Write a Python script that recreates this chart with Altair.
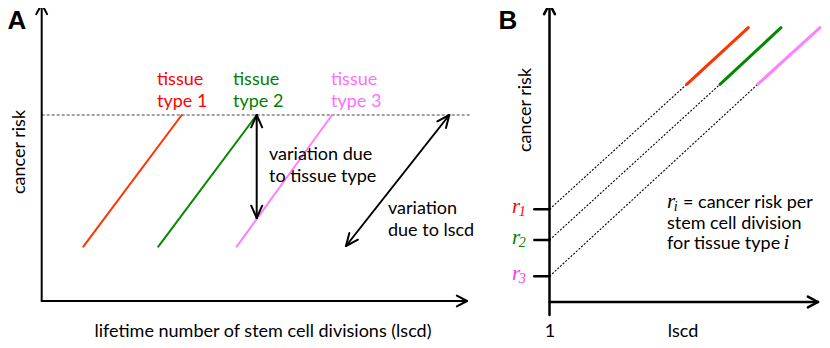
import math
import altair as alt
import pandas as pd

# ---------------- data (diagram units, y grows downward) ----------------
# Panel A: three tissue lines (risk vs lscd)
a_tissue = ["tissue type 1", "tissue type 2", "tissue type 3"]
a_x0 = [83.3, 158.3, 236.7]
a_x1 = [181.7, 256.7, 332.0]
a_y0 = [246.7, 246.7, 246.7]
a_y1 = [115.0, 115.0, 115.0]
line_colors = ["#ff3300", "#008a00", "#ff80ff"]
text_colors = ["#ff0000", "#008000", "#ff6eff"]
r_colors = ["#ff0000", "#008000", "#ff33ff"]

# Panel B: r_i intercepts and extrapolated lines
b_axis_x = 549.5
b_r_y = [209.3, 240.0, 276.3]
b_solid_x0 = [686.7, 720.0, 757.7]
b_solid_x1 = [748.3, 781.0, 820.0]
b_solid_y0 = [84.3, 84.3, 84.3]
b_solid_y1 = [27.7, 27.7, 27.7]

# ---------------- build tables ----------------
solid = []   # x, y, x2, y2, color, w
for i in range(3):
    solid.append((a_x0[i], a_y0[i], a_x1[i], a_y1[i], line_colors[i], 2.0))
    solid.append((b_solid_x0[i], b_solid_y0[i], b_solid_x1[i], b_solid_y1[i], line_colors[i], 3.0))


def arrow(x0, y0, x1, y1, w, heads, length, deg):
    segs = [(x0, y0, x1, y1, "#000000", w)]
    ends = []
    if "end" in heads:
        ends.append((x0, y0, x1, y1))
    if "start" in heads:
        ends.append((x1, y1, x0, y0))
    th = math.radians(deg)
    for (sx, sy, tx, ty) in ends:
        L = math.hypot(tx - sx, ty - sy)
        bx, by = (sx - tx) / L, (sy - ty) / L
        for s in (1, -1):
            rx = bx * math.cos(s * th) - by * math.sin(s * th)
            ry = bx * math.sin(s * th) + by * math.cos(s * th)
            segs.append((tx, ty, tx + length * rx, ty + length * ry, "#000000", w))
    return segs

# axes
solid += arrow(41.7, 301.0, 41.7, 4.0, 2.0, ["end"], 11.5, 28)
solid += arrow(41.7, 301.0, 467.0, 301.0, 2.0, ["end"], 11.5, 28)
solid += arrow(b_axis_x, 315.0, b_axis_x, 4.0, 2.5, ["end"], 11.5, 28)
solid += arrow(b_axis_x, 302.0, 818.0, 302.0, 2.5, ["end"], 11.5, 28)
# double arrows in A
solid += arrow(256.7, 115.0, 256.7, 218.0, 2.0, ["start", "end"], 13.5, 24)
solid += arrow(346.0, 246.0, 449.3, 115.0, 2.0, ["start", "end"], 13.5, 24)
# r ticks in B
for ry in b_r_y:
    solid.append((534.3, ry, b_axis_x, ry, "#000000", 2.5))

solid_df = pd.DataFrame(solid, columns=["x", "y", "x2", "y2", "color", "w"])

dash_a = pd.DataFrame([(41.7, 115.0, 470.0, 115.0)], columns=["x", "y", "x2", "y2"])
dash_b = pd.DataFrame(
    [(b_axis_x, b_r_y[i], b_solid_x0[i], b_solid_y0[i]) for i in range(3)],
    columns=["x", "y", "x2", "y2"],
)

# sans texts
sans = []  # x, y, text, color, align, angle
label_x = [157.0, 233.0, 331.0]
for i in range(3):
    sans.append((label_x[i], 85.0, "tissue", text_colors[i], "left", 0))
    sans.append((label_x[i], 106.5, "type " + str(i + 1), text_colors[i], "left", 0))
sans += [
    (269.0, 159.5, "variation due", "#000000", "left", 0),
    (269.0, 181.5, "to tissue type", "#000000", "left", 0),
    (388.0, 214.0, "variation", "#000000", "left", 0),
    (388.0, 236.0, "due to lscd", "#000000", "left", 0),
    (263.0, 337.0, "lifetime number of stem cell divisions (lscd)", "#000000", "center", 0),
    (550.0, 337.0, "1", "#000000", "center", 0),
    (683.0, 337.0, "lscd", "#000000", "center", 0),
    (683.0, 207.5, "= cancer risk per", "#000000", "left", 0),
    (667.0, 228.5, "stem cell division", "#000000", "left", 0),
    (667.0, 249.0, "for tissue type", "#000000", "left", 0),
]
sans_df = pd.DataFrame(sans, columns=["x", "y", "text", "color", "align", "angle"])

rot_df = pd.DataFrame(
    [(19.5, 152.0, "cancer risk"), (526.0, 110.0, "cancer risk")], columns=["x", "y", "text"]
)

panel_df = pd.DataFrame([(7.5, 29.0, "A"), (498.5, 29.0, "B")], columns=["x", "y", "text"])

# italic serif r symbols
r_main = []
r_sub = []
for i in range(3):
    r_main.append((512.0, b_r_y[i] + 4.0, "r", r_colors[i]))
    r_sub.append((518.8, b_r_y[i] + 7.0, str(i + 1), r_colors[i]))
r_main.append((667.0, 207.5, "r", "#000000"))
r_sub.append((673.8, 211.0, "i", "#000000"))
r_main.append((783.5, 249.0, "i", "#000000"))
r_main_df = pd.DataFrame(r_main, columns=["x", "y", "text", "color"])
r_sub_df = pd.DataFrame(r_sub, columns=["x", "y", "text", "color"])

# ---------------- chart ----------------
X = alt.X("x:Q", scale=alt.Scale(domain=[8, 822], nice=False, zero=False), axis=None)
Y = alt.Y("y:Q", scale=alt.Scale(domain=[8, 340], nice=False, zero=False, reverse=True), axis=None)
X2 = alt.X2("x2:Q")
Y2 = alt.Y2("y2:Q")

solid_layer = alt.Chart(solid_df).mark_rule(strokeCap="round").encode(
    x=X, y=Y, x2=X2, y2=Y2,
    color=alt.Color("color:N", scale=None),
    strokeWidth=alt.StrokeWidth("w:Q", scale=None),
)
dash_a_layer = alt.Chart(dash_a).mark_rule(
    strokeDash=[3, 2], color="#444444", strokeWidth=1
).encode(x=X, y=Y, x2=X2, y2=Y2)
dash_b_layer = alt.Chart(dash_b).mark_rule(
    strokeDash=[2, 1.6], color="#000000", strokeWidth=1.1
).encode(x=X, y=Y, x2=X2, y2=Y2)

sans_left = alt.Chart(sans_df[sans_df["align"] == "left"]).mark_text(
    font="Lato", fontSize=18, align="left", baseline="alphabetic"
).encode(x=X, y=Y, text="text:N", color=alt.Color("color:N", scale=None))
sans_center = alt.Chart(sans_df[sans_df["align"] == "center"]).mark_text(
    font="Lato", fontSize=18, align="center", baseline="alphabetic"
).encode(x=X, y=Y, text="text:N", color=alt.Color("color:N", scale=None))
rot_layer = alt.Chart(rot_df).mark_text(
    font="Lato", fontSize=18, align="center", baseline="middle", angle=270, color="#000000"
).encode(x=X, y=Y, text="text:N")
panel_layer = alt.Chart(panel_df).mark_text(
    font="Liberation Sans", fontSize=26, fontWeight="bold", align="left", baseline="alphabetic",
    color="#000000",
).encode(x=X, y=Y, text="text:N")
r_main_layer = alt.Chart(r_main_df).mark_text(
    font="Liberation Serif", fontSize=21, fontStyle="italic", align="left", baseline="alphabetic"
).encode(x=X, y=Y, text="text:N", color=alt.Color("color:N", scale=None))
r_sub_layer = alt.Chart(r_sub_df).mark_text(
    font="Liberation Serif", fontSize=14, fontStyle="italic", align="left", baseline="alphabetic"
).encode(x=X, y=Y, text="text:N", color=alt.Color("color:N", scale=None))

chart = alt.layer(
    dash_a_layer, dash_b_layer, solid_layer,
    sans_left, sans_center, rot_layer, panel_layer, r_main_layer, r_sub_layer,
).properties(
    width=814, height=332, padding=0, autosize=alt.AutoSizeParams(type="none"),
    background="white",
).configure_view(stroke=None)

chart.save("out.html", embed_options={"renderer": "svg", "actions": False})
